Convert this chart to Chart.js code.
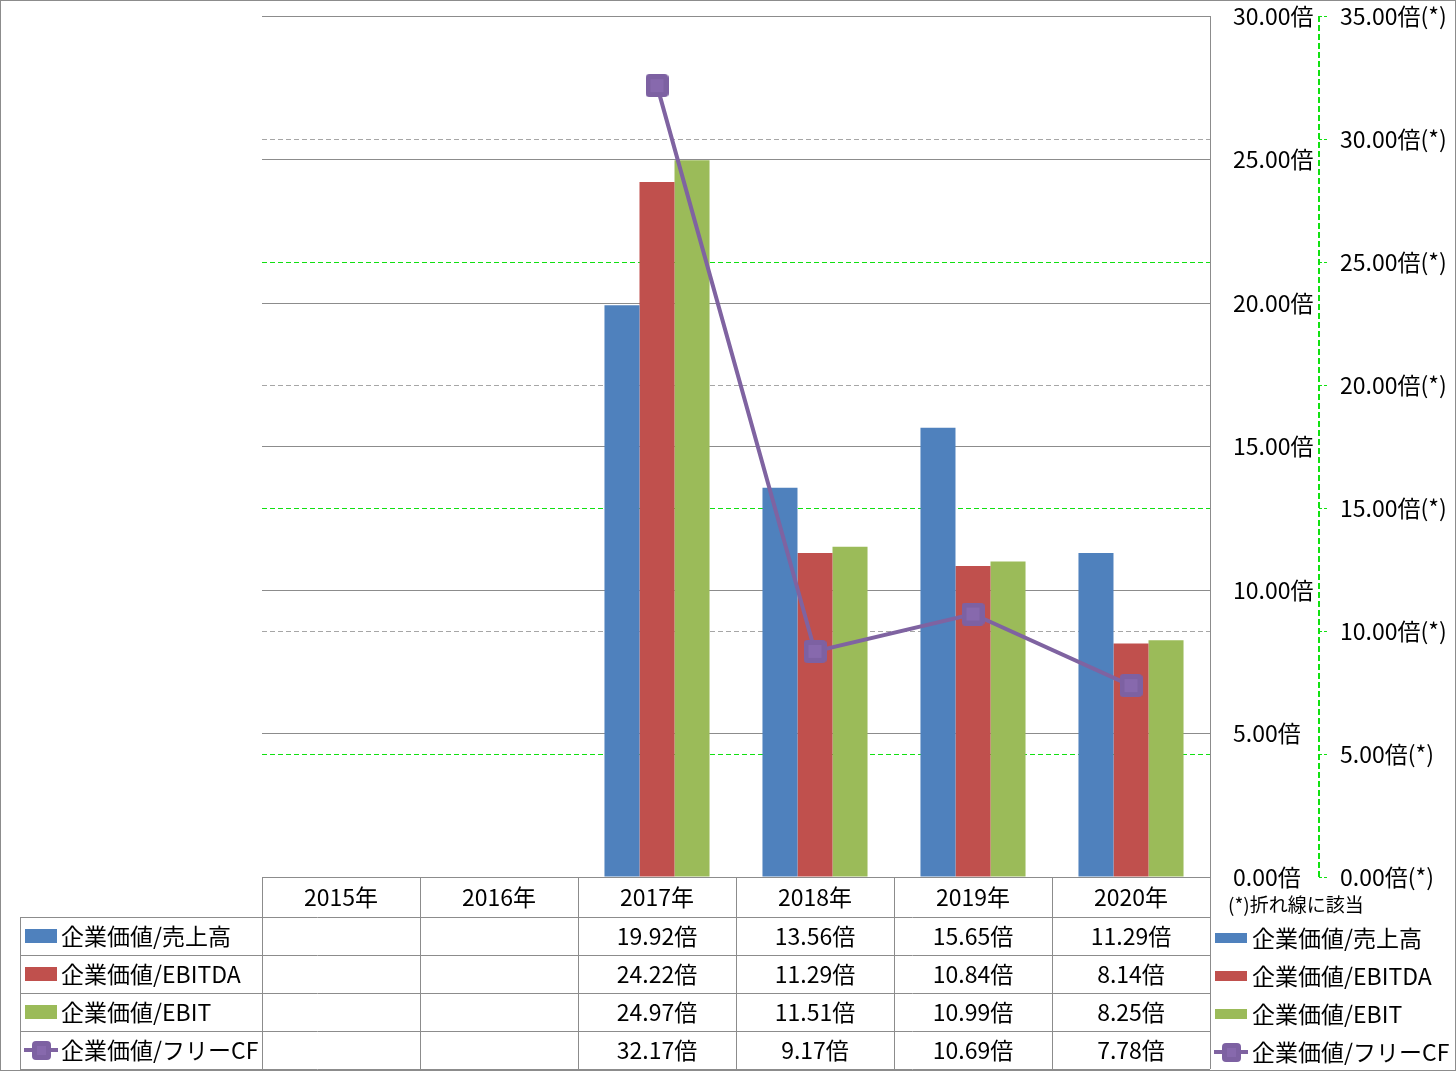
<!DOCTYPE html>
<html lang="ja">
<head>
<meta charset="utf-8">
<script src="https://cdn.jsdelivr.net/npm/chart.js@4.4.1/dist/chart.umd.min.js"></script>
<style>
  html, body { margin: 0; padding: 0; background: #fff; }
  #wrap { width: 1456px; height: 1071px; }
</style>
</head>
<body>
<div id="wrap"><canvas id="chart" width="1456" height="1071"></canvas></div>
<script>
// --- data ---
const years = ['2015年', '2016年', '2017年', '2018年', '2019年', '2020年'];
const evSales  = [null, null, 19.92, 13.56, 15.65, 11.29];
const evEbitda = [null, null, 24.22, 11.29, 10.84, 8.14];
const evEbit   = [null, null, 24.97, 11.51, 10.99, 8.25];
const evFcf    = [null, null, 32.17, 9.17, 10.69, 7.78];
const seriesNames = ['企業価値/売上高', '企業価値/EBITDA', '企業価値/EBIT', '企業価値/フリーCF'];
const seriesColors = ['#4F81BD', '#C0504D', '#9BBB59', '#8064A2'];

const FONT = "'Noto Sans CJK JP', 'Noto Sans', sans-serif";
const GRID_GRAY = '#8c8c8c';
const GREEN = '#11e011';

function fmt(v, suffix) {
  return v.toFixed(2) + suffix;
}

// square marker with soft rounded corners (like the office-style marker)
function makeMarker(size) {
  const c = document.createElement('canvas');
  c.width = size; c.height = size;
  const g = c.getContext('2d');
  g.fillStyle = '#7D61A2';
  g.beginPath();
  g.roundRect(0, 0, size, size, 4);
  g.fill();
  g.fillStyle = '#8769AD';
  g.fillRect(5, 5, size - 10, size - 10);
  return c;
}
const marker = makeMarker(23);
const smallMarker = makeMarker(19);

function drawSwatch(ctx, i, x, cy, w, h) {
  if (i < 3) {
    ctx.fillStyle = seriesColors[i];
    ctx.fillRect(x, cy - h / 2, w, h);
  } else {
    ctx.strokeStyle = '#7F63A1';
    ctx.lineWidth = 4;
    ctx.beginPath();
    ctx.moveTo(x - 1, cy);
    ctx.lineTo(x + w + 1, cy);
    ctx.stroke();
    ctx.drawImage(smallMarker, Math.round(x + w / 2 - 9.5), Math.round(cy - 9.5));
  }
}

// data table + legends under the plot
const dataTable = {
  id: 'dataTable',
  afterDraw(chart) {
    const { ctx, chartArea, scales } = chart;
    const x = scales.x;
    const top = chartArea.bottom;
    const headH = 40, rowH = 38;
    const half = (x.getPixelForValue(1) - x.getPixelForValue(0)) / 2;
    const left = chartArea.left, right = chartArea.right;
    const legLeft = 20;
    const allRows = [evSales, evEbitda, evEbit, evFcf];

    ctx.save();
    ctx.strokeStyle = GRID_GRAY;
    ctx.lineWidth = 1;
    ctx.beginPath();
    ctx.moveTo(left, top + 0.5);
    ctx.lineTo(right, top + 0.5);
    for (let r = 0; r <= 4; r++) {
      const y = Math.round(top + headH + r * rowH) + 0.5;
      ctx.moveTo(legLeft, y);
      ctx.lineTo(right, y);
    }
    ctx.moveTo(legLeft + 0.5, top + headH);
    ctx.lineTo(legLeft + 0.5, top + headH + 4 * rowH);
    for (let i = 0; i <= years.length; i++) {
      const px = Math.round(x.getPixelForValue(i) - half) + 0.5;
      ctx.moveTo(px, top);
      ctx.lineTo(px, top + headH + 4 * rowH);
    }
    ctx.stroke();

    ctx.fillStyle = '#000';
    ctx.textAlign = 'center';
    ctx.textBaseline = 'middle';
    ctx.font = '23px ' + FONT;
    years.forEach((yr, i) => {
      const cx = x.getPixelForValue(i);
      ctx.fillText(yr, cx, top + headH / 2);
      allRows.forEach((row, r) => {
        if (row[i] != null) {
          ctx.fillText(fmt(row[i], '倍'), cx, top + headH + r * rowH + rowH / 2);
        }
      });
    });

    // legend inside table (left)
    ctx.textAlign = 'left';
    ctx.font = '23px ' + FONT;
    seriesNames.forEach((name, r) => {
      const cy = top + headH + r * rowH + rowH / 2;
      drawSwatch(ctx, r, 25, cy, 32, 14);
      ctx.fillStyle = '#000';
      ctx.fillText(name, 61, cy);
    });

    // legend on the right
    ctx.font = '19px ' + FONT;
    ctx.fillStyle = '#000';
    ctx.fillText('(*)折れ線に該当', 1228, top + 28);
    ctx.font = '23px ' + FONT;
    seriesNames.forEach((name, r) => {
      const cy = top + headH + r * rowH + rowH / 2 + 2;
      drawSwatch(ctx, r, 1215, cy, 32, 10);
      ctx.fillStyle = '#000';
      ctx.fillText(name, 1252, cy);
    });

    // secondary axis dashed line (green dashes)
    const ax = Math.round(chart.scales.y2.left);
    ctx.fillStyle = GREEN;
    for (let yy = Math.round(chartArea.top); yy < chartArea.bottom; yy += 9) {
      ctx.fillRect(ax - 1, yy, 2, Math.min(6, chartArea.bottom - yy));
    }

    // outer frame
    ctx.strokeStyle = GRID_GRAY;
    ctx.lineWidth = 1;
    ctx.strokeRect(0.5, 0.5, chart.width - 1, chart.height - 1);
    ctx.restore();
  }
};

function noEdgePadding(s) {
  s.paddingTop = 0;
  s.paddingBottom = 0;
}

new Chart(document.getElementById('chart'), {
  type: 'bar',
  data: {
    labels: years,
    datasets: [
      { label: seriesNames[0], data: evSales, backgroundColor: seriesColors[0], yAxisID: 'y', order: 1 },
      { label: seriesNames[1], data: evEbitda, backgroundColor: seriesColors[1], yAxisID: 'y', order: 1 },
      { label: seriesNames[2], data: evEbit, backgroundColor: seriesColors[2], yAxisID: 'y', order: 1 },
      {
        type: 'line', label: seriesNames[3], data: evFcf, yAxisID: 'y2', order: 0,
        borderColor: '#7F63A1', borderWidth: 4,
        pointStyle: marker, pointRadius: 12
      }
    ]
  },
  options: {
    responsive: false,
    animation: false,
    layout: { padding: { left: 262, top: 16, bottom: 194, right: 0 } },
    datasets: { bar: { categoryPercentage: 0.665, barPercentage: 1 } },
    plugins: { legend: { display: false }, tooltip: { enabled: false } },
    scales: {
      x: { display: false },
      y: {
        position: 'right', weight: 0,
        min: 0, max: 30,
        ticks: { stepSize: 5, padding: 23, color: '#000', font: { family: FONT, size: 23 },
                 callback: v => fmt(v, '倍') },
        grid: { color: GRID_GRAY, drawTicks: false },
        border: { display: true, color: GRID_GRAY },
        afterFit: s => { s.width = 109; noEdgePadding(s); }
      },
      y2: {
        position: 'right', weight: 1,
        min: 0, max: 35,
        ticks: { stepSize: 5, padding: 13, color: '#000', font: { family: FONT, size: 23 },
                 callback: v => fmt(v, '倍(*)') },
        grid: {
          color: c => {
            const v = c.tick ? c.tick.value : 0;
            if (v === 0 || v === 35) return 'rgba(0,0,0,0)';
            return (v / 5) % 2 === 1 ? GREEN : '#a6a6a6';
          },
          tickColor: GREEN, tickLength: 8, tickBorderDash: [3, 2]
        },
        border: { display: false, dash: [5, 3] },
        afterFit: s => { s.width = 137; noEdgePadding(s); }
      }
    }
  },
  plugins: [dataTable]
});
</script>
</body>
</html>
